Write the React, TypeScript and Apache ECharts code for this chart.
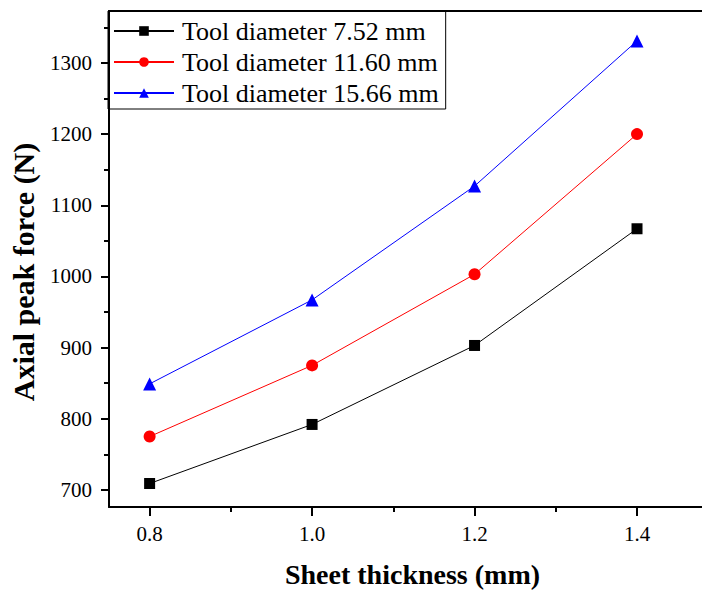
import React, { useEffect, useRef } from "react";
import * as echarts from "echarts";

const thickness = [0.8, 1.0, 1.2, 1.4];
const seriesNames = ["Tool diameter 7.52 mm", "Tool diameter 11.60 mm", "Tool diameter 15.66 mm"];
const force752 = [709, 792, 903, 1067];
const force1160 = [775, 875, 1003, 1200];
const force1566 = [849, 967, 1127, 1331];
const yMajorTicks = [700, 800, 900, 1000, 1100, 1200, 1300];
const yAllTicks = [700, 750, 800, 850, 900, 950, 1000, 1050, 1100, 1150, 1200, 1250, 1300, 1350];
const xMajorTicks = [0.8, 1.0, 1.2, 1.4];
const xAllTicks = [0.8, 0.9, 1.0, 1.1, 1.2, 1.3, 1.4];
const xTitle = "Sheet thickness (mm)";
const yTitle = "Axial peak force (N)";

const FONT = "Liberation Serif";

export default function App() {
  const ref = useRef<HTMLDivElement>(null);
  useEffect(() => {
    if (!ref.current) return;
    const chart = echarts.init(ref.current, undefined, { renderer: "svg" });
    const mk = (vals: number[]) => vals.map((v, i) => [thickness[i], v]);
    const colors = ["#000000", "#ff0000", "#0000ff"];
    const symbols = ["rect", "circle", "triangle"];
    const sizes = [11, 12, 13];
    const datas = [force752, force1160, force1566];
    chart.setOption({
      animation: false,
      textStyle: { fontFamily: FONT },
      grid: { left: 109, top: 11, right: 0, bottom: 83, containLabel: false },
      legend: {
        left: 108,
        top: 11,
        orient: "vertical",
        itemWidth: 60,
        itemHeight: 12,
        itemGap: 5,
        padding: [7, 7, 3, 5],
        borderColor: "#000",
        borderWidth: 1,
        textStyle: { fontFamily: FONT, fontSize: 26, color: "#000", padding: [0, 0, 0, 3] },
        data: seriesNames,
      },
      graphic: [
        {
          type: "text",
          x: 412.5,
          y: 574,
          style: {
            text: xTitle,
            font: "bold 28px Liberation Serif",
            fill: "#000",
            textAlign: "center",
            textVerticalAlign: "middle",
          },
        },
        {
          type: "text",
          x: 23.5,
          y: 272,
          rotation: Math.PI / 2,
          style: {
            text: yTitle,
            font: "bold 30px Liberation Serif",
            fill: "#000",
            textAlign: "center",
            textVerticalAlign: "middle",
          },
        },
      ],
      xAxis: [
        {
          type: "value",
          min: 0.75,
          max: 1.48,
          axisLine: { show: true, onZero: false, lineStyle: { color: "#000", width: 2 } },
          axisTick: { show: true, inside: false, length: 9, customValues: xMajorTicks, lineStyle: { color: "#000", width: 2 } },
          minorTick: { show: false },
          axisLabel: {
            customValues: xMajorTicks,
            margin: 16,
            fontFamily: FONT,
            fontSize: 21,
            color: "#000",
            formatter: (v: number) => v.toFixed(1),
          },
          splitLine: { show: false },
        },
        {
          type: "value",
          position: "top",
          min: 0.75,
          max: 1.48,
          axisLine: { show: true, onZero: false, lineStyle: { color: "#000", width: 2 } },
          axisTick: { show: false },
          axisLabel: { show: false },
          splitLine: { show: false },
        },
        {
          type: "value",
          position: "bottom",
          min: 0.75,
          max: 1.48,
          axisLine: { show: false },
          axisTick: { show: true, length: 5, customValues: xAllTicks, lineStyle: { color: "#000", width: 2 } },
          axisLabel: { show: false },
          splitLine: { show: false },
        },
      ],
      yAxis: [
        {
          type: "value",
          min: 676,
          max: 1373,
          axisLine: { show: true, onZero: false, lineStyle: { color: "#000", width: 2 } },
          axisTick: { show: true, inside: false, length: 8, customValues: yMajorTicks, lineStyle: { color: "#000", width: 2 } },
          axisLabel: {
            customValues: yMajorTicks,
            margin: 17,
            fontFamily: FONT,
            fontSize: 21,
            color: "#000",
            formatter: (v: number) => String(v),
          },
          splitLine: { show: false },
        },
        {
          type: "value",
          position: "left",
          min: 676,
          max: 1373,
          axisLine: { show: false },
          axisTick: { show: true, length: 5, customValues: yAllTicks, lineStyle: { color: "#000", width: 2 } },
          axisLabel: { show: false },
          splitLine: { show: false },
        },
      ],
      series: datas.map((d, i) => ({
        name: seriesNames[i],
        type: "line",
        xAxisIndex: 0,
        yAxisIndex: 0,
        data: mk(d),
        symbol: symbols[i],
        symbolSize: sizes[i],
        showAllSymbol: true,
        lineStyle: { color: colors[i], width: 1 },
        itemStyle: { color: colors[i] },
        emphasis: { disabled: true },
      })),
    });
    return () => chart.dispose();
  }, []);
  return (
    <div
      ref={ref}
      style={{ position: "fixed", left: 0, top: 0, width: 702, height: 590, background: "#fff" }}
    />
  );
}
